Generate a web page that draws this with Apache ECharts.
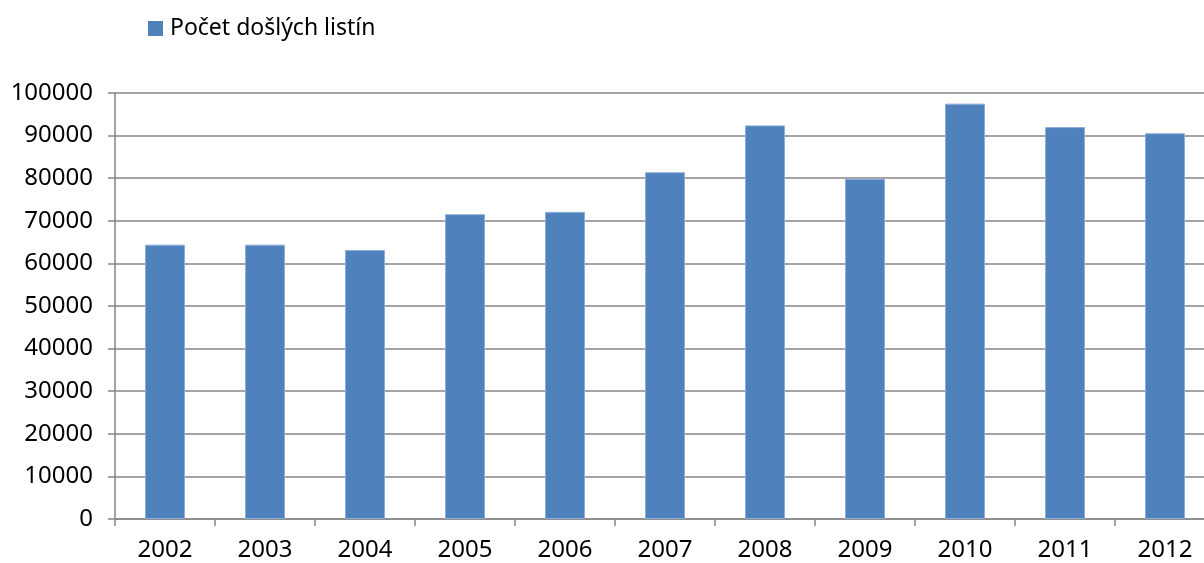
<!DOCTYPE html>
<html>
<head>
<meta charset="utf-8">
<script src="https://cdn.jsdelivr.net/npm/echarts@6/dist/echarts.min.js"></script>
<style>html,body{margin:0;padding:0;background:#fff;}#c{width:1204px;height:563px;}</style>
</head>
<body>
<div id="c"></div>
<script>
var categories = ['2002','2003','2004','2005','2006','2007','2008','2009','2010','2011','2012'];
var seriesName = 'Počet došlých listín';
var values = [64400, 64400, 63150, 71550, 72100, 81400, 92400, 79850, 97500, 92000, 90550];

var chart = echarts.init(document.getElementById('c'));
var font = '"Noto Sans", sans-serif';
chart.setOption({
  animation: false,
  backgroundColor: '#ffffff',
  legend: {
    left: 143, top: 12,
    itemWidth: 15, itemHeight: 15, itemGap: 10,
    icon: 'rect',
    itemStyle: { borderWidth: 0 },
    textStyle: { fontFamily: font, fontSize: 23, color: '#000', padding: [0, 0, 0, 2] },
    data: [seriesName]
  },
  grid: { left: 115, top: 93, width: 1100, height: 426, containLabel: false, outerBoundsMode: 'none' },
  xAxis: {
    type: 'category',
    data: categories,
    axisLine: { show: true, lineStyle: { color: '#868686', width: 1.5 } },
    axisTick: { show: true, length: 7, lineStyle: { color: '#868686', width: 1.5 } },
    axisLabel: { fontFamily: font, fontSize: 24, color: '#000', margin: 19 }
  },
  yAxis: {
    type: 'value',
    min: 0, max: 100000, interval: 10000,
    axisLine: { show: true, lineStyle: { color: '#868686', width: 1.5 } },
    axisTick: { show: true, length: 7, lineStyle: { color: '#868686', width: 1.5 } },
    axisLabel: { fontFamily: font, fontSize: 24, color: '#000', margin: 22, formatter: function (v) { return String(v); } },
    splitLine: { show: true, lineStyle: { color: '#868686', width: 1.5 } }
  },
  series: [{
    name: seriesName,
    type: 'bar',
    data: values,
    barWidth: '40%',
    itemStyle: { color: '#4F81BD', borderColor: '#8DAEDA', borderWidth: 1 }
  }]
});
</script>
</body>
</html>
